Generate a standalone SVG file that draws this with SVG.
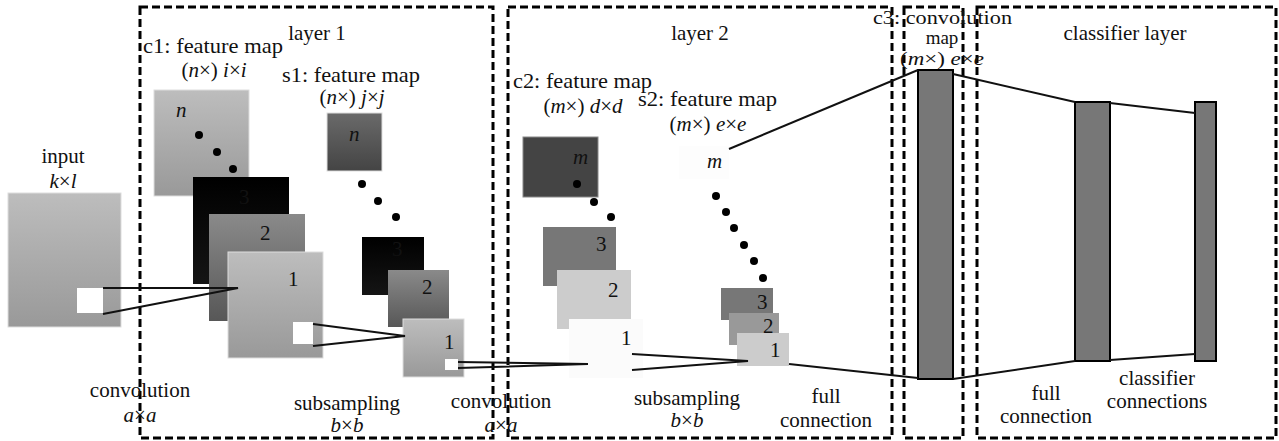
<svg xmlns="http://www.w3.org/2000/svg" width="1279" height="441" viewBox="0 0 1279 441" font-family="'Liberation Serif', 'Times New Roman', 'DejaVu Serif', serif">
<style>
text{font-family:"Liberation Serif","Times New Roman",Tinos,"DejaVu Serif",serif;font-size:21px;fill:#111}
.c{text-anchor:middle}
.i{font-style:italic}
.s{font-size:19px}
.box{fill:none;stroke:#000;stroke-width:3;stroke-dasharray:8 4}
.ln{stroke:#111;stroke-width:2;fill:none}
.dot{fill:#000}
.bar{fill:#777;stroke:#000;stroke-width:2}
.fm{stroke:#ddd;stroke-width:1}
</style>
<defs>
<linearGradient id="gL" x1="0" y1="0" x2="0" y2="1"><stop offset="0" stop-color="#bdbdbd"/><stop offset="1" stop-color="#999"/></linearGradient>
<linearGradient id="gM" x1="0" y1="0" x2="0" y2="1"><stop offset="0" stop-color="#8a8a8a"/><stop offset="1" stop-color="#575757"/></linearGradient>
<linearGradient id="gD" x1="0" y1="0" x2="0" y2="1"><stop offset="0" stop-color="#6a6a6a"/><stop offset="1" stop-color="#444"/></linearGradient>
<linearGradient id="gK" x1="0" y1="0" x2="0" y2="1"><stop offset="0" stop-color="#000"/><stop offset="1" stop-color="#151515"/></linearGradient>
</defs>

<g id="frames">
<rect class="box" x="140" y="7" width="353" height="431"/>
<rect class="box" x="508" y="7" width="384" height="431"/>
<rect class="box" x="904" y="7" width="59" height="431"/>
<rect class="box" x="977" y="7" width="299" height="431"/>
</g>

<g id="input">
<text class="c" x="63" y="163">input</text>
<text class="c" x="63" y="188"><tspan class="i">k</tspan>×<tspan class="i">l</tspan></text>
<rect class="fm" x="8" y="193" width="113" height="134" fill="url(#gL)"/>
<rect x="77" y="288" width="26" height="25" fill="#fff"/>
</g>

<g id="layer1-label"><text class="c" x="317" y="40">layer 1</text></g>

<g id="c1">
<text x="143" y="53" textLength="140" lengthAdjust="spacingAndGlyphs">c1: feature map</text>
<text class="c" x="214" y="77">(<tspan class="i">n</tspan>×) <tspan class="i">i</tspan>×<tspan class="i">i</tspan></text>
<rect class="fm" x="154" y="90" width="95" height="106" fill="url(#gL)"/>
<text class="i" x="176" y="117">n</text>
<circle class="dot" cx="199" cy="135" r="4"/>
<circle class="dot" cx="217" cy="152" r="4"/>
<circle class="dot" cx="233" cy="169" r="4"/>
<rect x="193" y="177" width="96" height="107" fill="url(#gK)"/>
<text x="239" y="204" fill="#111">3</text>
<rect x="209" y="214" width="96" height="107" fill="url(#gM)"/>
<text x="260" y="240">2</text>
<rect class="fm" x="228" y="252" width="95" height="106" fill="url(#gL)"/>
<text x="288" y="286">1</text>
<rect x="293" y="322" width="20" height="22" fill="#fff"/>
</g>

<g id="s1">
<text x="282" y="82" textLength="138" lengthAdjust="spacingAndGlyphs">s1: feature map</text>
<text class="c" x="352" y="104">(<tspan class="i">n</tspan>×) <tspan class="i">j</tspan>×<tspan class="i">j</tspan></text>
<rect class="fm" x="327" y="113" width="55" height="58" fill="url(#gD)"/>
<text class="i" x="349" y="141">n</text>
<circle class="dot" cx="362" cy="184" r="4"/>
<circle class="dot" cx="378" cy="201" r="4"/>
<circle class="dot" cx="396" cy="217" r="4"/>
<rect x="362" y="237" width="62" height="58" fill="url(#gK)"/>
<text x="392" y="256" fill="#222">3</text>
<rect x="388" y="270" width="61" height="57" fill="url(#gM)"/>
<text x="422" y="294">2</text>
<rect class="fm" x="403" y="319" width="61" height="58" fill="url(#gL)"/>
<text x="444" y="349">1</text>
<rect x="445" y="359" width="13" height="11" fill="#fff"/>
</g>

<g id="layer2-label"><text class="c" x="700" y="40">layer 2</text></g>

<g id="c2">
<text x="513" y="88" textLength="139" lengthAdjust="spacingAndGlyphs">c2: feature map</text>
<text class="c" x="583" y="113">(<tspan class="i">m</tspan>×) <tspan class="i">d</tspan>×<tspan class="i">d</tspan></text>
<rect x="523" y="137" width="75" height="60" fill="#444" stroke="#888" stroke-width="1"/>
<text class="i" x="573" y="164">m</text>
<circle class="dot" cx="577" cy="184" r="4"/>
<circle class="dot" cx="594" cy="202" r="4"/>
<circle class="dot" cx="611" cy="217" r="4"/>
<rect x="543" y="227" width="73" height="59" fill="#777"/>
<text x="596" y="251">3</text>
<rect x="557" y="270" width="74" height="59" fill="#ccc"/>
<text x="608" y="297">2</text>
<rect x="569" y="319" width="74" height="59" fill="#fbfbfb"/>
<text x="621" y="345">1</text>
</g>

<g id="s2">
<text x="638" y="106" textLength="139" lengthAdjust="spacingAndGlyphs">s2: feature map</text>
<text class="c" x="708" y="131">(<tspan class="i">m</tspan>×) <tspan class="i">e</tspan>×<tspan class="i">e</tspan></text>
<rect x="679" y="146" width="50" height="33" fill="#fdfdfd"/>
<text class="i" x="707" y="168">m</text>
<circle class="dot" cx="716" cy="196" r="4"/>
<circle class="dot" cx="726" cy="212" r="4"/>
<circle class="dot" cx="734" cy="228" r="4"/>
<circle class="dot" cx="744" cy="245" r="4"/>
<circle class="dot" cx="754" cy="261" r="4"/>
<circle class="dot" cx="763" cy="278" r="4"/>
<rect x="721" y="288" width="52" height="32" fill="#777"/>
<text x="757" y="309">3</text>
<rect x="729" y="313" width="50" height="32" fill="#999"/>
<text x="763" y="333">2</text>
<rect x="737" y="333" width="52" height="33" fill="#ccc"/>
<text x="770" y="357">1</text>
</g>

<g id="c3">
<text class="s" x="873" y="24" textLength="139" lengthAdjust="spacingAndGlyphs">c3: convolution</text>
<text class="c s" x="942" y="44">map</text>
<text class="c s" x="942" y="65" textLength="84" lengthAdjust="spacingAndGlyphs">(<tspan class="i">m</tspan>×) <tspan class="i">e</tspan>×<tspan class="i">e</tspan></text>
<rect class="bar" x="918" y="70" width="35" height="309"/>
</g>

<g id="classifier-label"><text class="c" x="1125" y="40">classifier layer</text></g>

<g id="fc1"><rect class="bar" x="1075" y="102" width="35" height="259"/></g>
<g id="fc2"><rect class="bar" x="1195" y="102" width="21" height="259"/></g>

<g id="connectors">
<polyline class="ln" points="103,288 238,288 103,314"/>
<polyline class="ln" points="313,324 405,336 313,346"/>
<polyline class="ln" points="458,362 588,364 458,368"/>
<polyline class="ln" points="632,354 748,361 632,370"/>
<line class="ln" x1="729" y1="149" x2="918" y2="70"/>
<line class="ln" x1="789" y1="364" x2="918" y2="378"/>
<line class="ln" x1="953" y1="74" x2="1075" y2="102"/>
<line class="ln" x1="953" y1="379" x2="1075" y2="361"/>
<line class="ln" x1="1110" y1="103" x2="1195" y2="113"/>
<line class="ln" x1="1110" y1="360" x2="1195" y2="354"/>
</g>

<g id="operation-labels">
<text class="c" x="140" y="397">convolution</text>
<text class="c" x="140" y="422"><tspan class="i">a</tspan>×<tspan class="i">a</tspan></text>
<text class="c" x="347" y="410">subsampling</text>
<text class="c" x="347" y="432"><tspan class="i">b</tspan>×<tspan class="i">b</tspan></text>
<text class="c" x="501" y="408">convolution</text>
<text class="c" x="501" y="432"><tspan class="i">a</tspan>×<tspan class="i">a</tspan></text>
<text class="c" x="687" y="405">subsampling</text>
<text class="c" x="687" y="427"><tspan class="i">b</tspan>×<tspan class="i">b</tspan></text>
<text class="c" x="826" y="403">full</text>
<text class="c" x="826" y="427">connection</text>
<text class="c" x="1046" y="400">full</text>
<text class="c" x="1046" y="423">connection</text>
<text class="c" x="1157" y="385">classifier</text>
<text class="c" x="1157" y="408">connections</text>
</g>
</svg>
